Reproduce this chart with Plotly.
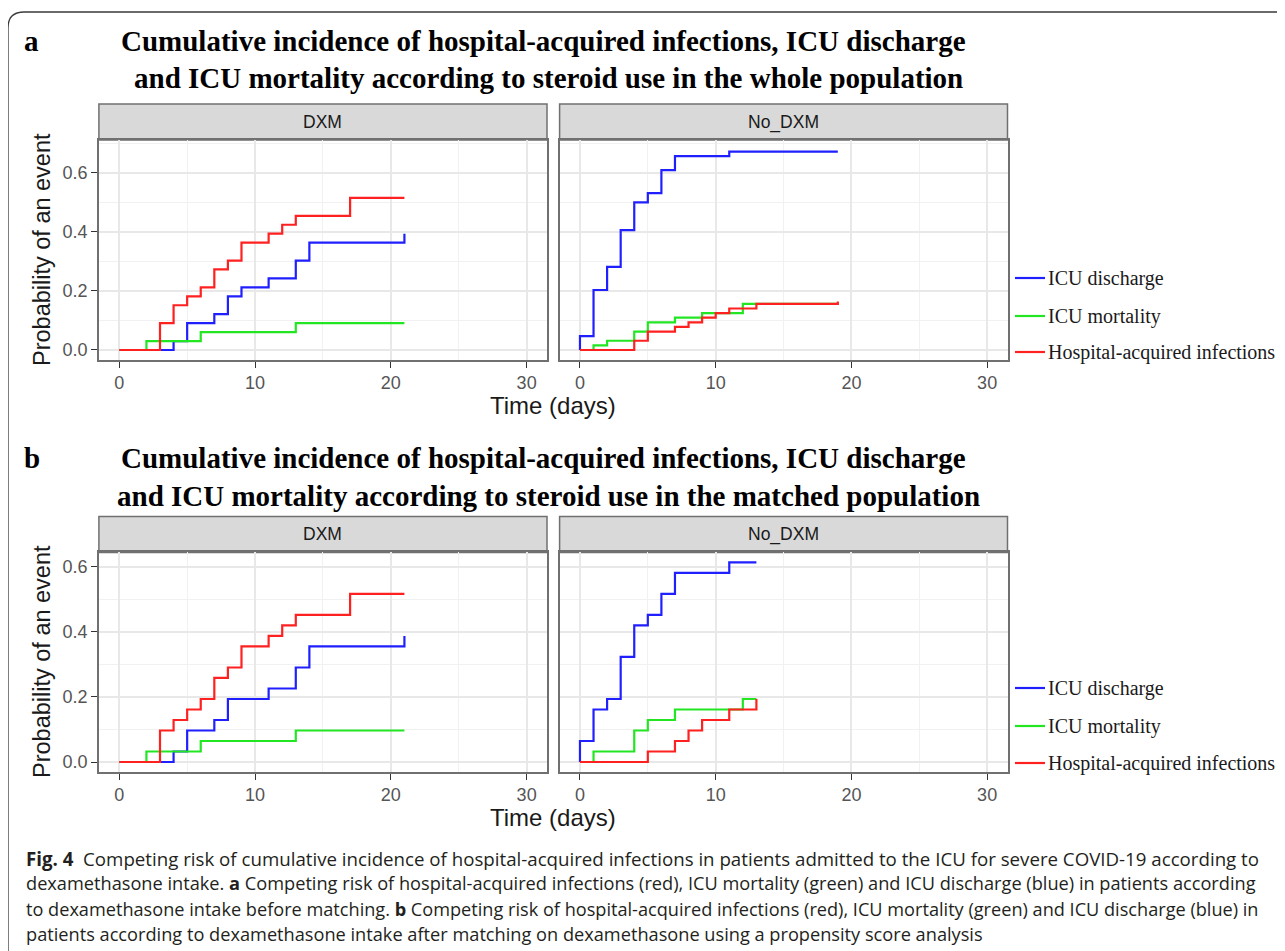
import plotly.graph_objects as go

W, H = 1285, 951
OFF = 8  # the page body adds an 8px margin; positions below are page pixels

# ---------------- data ----------------
panels = ["DXM", "No_DXM"]
series_names = ["ICU discharge", "ICU mortality", "Hospital-acquired infections"]
series_colors = ["#1f1fff", "#22e622", "#ff2020"]

# (a) whole population, DXM
a_dxm_dis_t = [0, 4, 5, 7, 8, 9, 11, 13, 14, 21, 21]
a_dxm_dis_v = [0, 0.0303, 0.0909, 0.1212, 0.1818, 0.2121, 0.2424, 0.3030, 0.3636, 0.3636, 0.3939]
a_dxm_mort_t = [0, 2, 6, 13, 21]
a_dxm_mort_v = [0, 0.0303, 0.0606, 0.0909, 0.0909]
a_dxm_hai_t = [0, 3, 4, 5, 6, 7, 8, 9, 11, 12, 13, 17, 21]
a_dxm_hai_v = [0, 0.0909, 0.1515, 0.1818, 0.2121, 0.2727, 0.3030, 0.3636, 0.3939, 0.4242, 0.4545, 0.5152, 0.5152]

# (a) whole population, No_DXM
a_no_dis_t = [0, 0, 1, 2, 3, 4, 5, 6, 7, 11, 19]
a_no_dis_v = [0, 0.0469, 0.2031, 0.2813, 0.4063, 0.5000, 0.5313, 0.6094, 0.6563, 0.6719, 0.6719]
a_no_mort_t = [0, 1, 2, 4, 5, 7, 9, 12, 19]
a_no_mort_v = [0, 0.0156, 0.0313, 0.0625, 0.0938, 0.1094, 0.1250, 0.1563, 0.1563]
a_no_hai_t = [0, 4, 5, 7, 8, 9, 10, 11, 13, 19, 19]
a_no_hai_v = [0, 0.0313, 0.0625, 0.0781, 0.0938, 0.1094, 0.1250, 0.1406, 0.1563, 0.1563, 0.1641]

# (b) matched population, DXM
b_dxm_dis_t = [0, 4, 5, 7, 8, 11, 13, 14, 21, 21]
b_dxm_dis_v = [0, 0.0323, 0.0968, 0.1290, 0.1935, 0.2258, 0.2903, 0.3548, 0.3548, 0.3871]
b_dxm_mort_t = [0, 2, 6, 13, 21]
b_dxm_mort_v = [0, 0.0323, 0.0645, 0.0968, 0.0968]
b_dxm_hai_t = [0, 3, 4, 5, 6, 7, 8, 9, 11, 12, 13, 17, 21]
b_dxm_hai_v = [0, 0.0968, 0.1290, 0.1613, 0.1935, 0.2581, 0.2903, 0.3548, 0.3871, 0.4194, 0.4516, 0.5161, 0.5161]

# (b) matched population, No_DXM
b_no_dis_t = [0, 0, 1, 2, 3, 4, 5, 6, 7, 11, 13]
b_no_dis_v = [0, 0.0645, 0.1613, 0.1935, 0.3226, 0.4194, 0.4516, 0.5161, 0.5806, 0.6129, 0.6129]
b_no_mort_t = [0, 1, 4, 5, 7, 12, 13]
b_no_mort_v = [0, 0.0323, 0.0968, 0.1290, 0.1613, 0.1935, 0.1935]
b_no_hai_t = [0, 5, 7, 8, 9, 11, 13, 13]
b_no_hai_v = [0, 0.0323, 0.0645, 0.0968, 0.1290, 0.1613, 0.1613, 0.1935]

x_ticks = [0, 10, 20, 30]
y_ticks = [0.0, 0.2, 0.4, 0.6]
y_tick_labels = ["0.0", "0.2", "0.4", "0.6"]

title_a = ["Cumulative incidence of hospital-acquired infections, ICU discharge",
           "and ICU mortality according to steroid use in the whole population"]
title_b = ["Cumulative incidence of hospital-acquired infections, ICU discharge",
           "and ICU mortality according to steroid use in the matched population"]
caption_lines = [
    "<b>Fig. 4</b>  Competing risk of cumulative incidence of hospital-acquired infections in patients admitted to the ICU for severe COVID-19 according to",
    "dexamethasone intake. <b>a</b> Competing risk of hospital-acquired infections (red), ICU mortality (green) and ICU discharge (blue) in patients according",
    "to dexamethasone intake before matching. <b>b</b> Competing risk of hospital-acquired infections (red), ICU mortality (green) and ICU discharge (blue) in",
    "patients according to dexamethasone intake after matching on dexamethasone using a propensity score analysis",
]

# ---------------- layout helpers ----------------
def px(x):
    return (x - OFF) / W

def py(y):
    return 1 - (y - OFF) / H

panel_x = [(98.9, 547.0), (559.6, 1007.5)]
panel_y = {"a": (140.0, 360.0), "b": (552.4, 772.0)}
strip_h = 36
yrange = {"a": [-0.0339, 0.7112], "b": [-0.0307, 0.6437]}

sans = "Liberation Sans, Arial"
serif = "Liberation Serif, Times New Roman"

fig = go.Figure()

data = {
    ("a", 0): [(a_dxm_dis_t, a_dxm_dis_v), (a_dxm_mort_t, a_dxm_mort_v), (a_dxm_hai_t, a_dxm_hai_v)],
    ("a", 1): [(a_no_dis_t, a_no_dis_v), (a_no_mort_t, a_no_mort_v), (a_no_hai_t, a_no_hai_v)],
    ("b", 0): [(b_dxm_dis_t, b_dxm_dis_v), (b_dxm_mort_t, b_dxm_mort_v), (b_dxm_hai_t, b_dxm_hai_v)],
    ("b", 1): [(b_no_dis_t, b_no_dis_v), (b_no_mort_t, b_no_mort_v), (b_no_hai_t, b_no_hai_v)],
}

layout_axes = {}
shapes = []
annotations = []
idx = 0
for part in ["a", "b"]:
    for col in [0, 1]:
        idx += 1
        sfx = "" if idx == 1 else str(idx)
        for (t, v), name, color in zip(data[(part, col)], series_names, series_colors):
            fig.add_trace(go.Scatter(
                x=t, y=v, mode="lines", line=dict(color=color, width=2.2, shape="hv"),
                name=name, showlegend=False, xaxis="x" + sfx, yaxis="y" + sfx,
                hoverinfo="skip"))
        x0, x1 = panel_x[col]
        y0, y1 = panel_y[part]
        layout_axes["xaxis" + sfx] = dict(
            domain=[px(x0), px(x1)], anchor="y" + sfx, range=[-1.5, 31.5],
            tickmode="array", tickvals=x_ticks, ticktext=[str(v) for v in x_ticks],
            ticks="outside", ticklen=6, tickwidth=1.4, tickcolor="#333333",
            tickfont=dict(family=sans, size=18, color="#555555"),
            showgrid=True, gridcolor="#e8e8e8", gridwidth=1.5,
            minor=dict(tickvals=[5, 15, 25], showgrid=True, gridcolor="#f1f1f1", gridwidth=0.9, ticks=""),
            showline=True, mirror=True, linecolor="#707070", linewidth=1.5,
            zeroline=False, fixedrange=True)
        layout_axes["yaxis" + sfx] = dict(
            domain=[py(y1), py(y0)], anchor="x" + sfx, range=yrange[part],
            tickmode="array", tickvals=y_ticks, ticktext=y_tick_labels,
            ticks="outside" if col == 0 else "", ticklen=6, tickwidth=1.4, tickcolor="#333333",
            showticklabels=(col == 0),
            tickfont=dict(family=sans, size=18, color="#555555"),
            showgrid=True, gridcolor="#e8e8e8", gridwidth=1.5,
            minor=dict(tickvals=[0.1, 0.3, 0.5, 0.7], showgrid=True, gridcolor="#f1f1f1", gridwidth=0.9, ticks=""),
            showline=True, mirror=True, linecolor="#707070", linewidth=1.5,
            zeroline=False, fixedrange=True)
        # facet strip
        shapes.append(dict(type="rect", xref="paper", yref="paper",
                           x0=px(x0), x1=px(x1), y0=py(y0), y1=py(y0 - strip_h),
                           fillcolor="#d9d9d9", line=dict(color="#707070", width=1.5), layer="below"))
        annotations.append(dict(xref="paper", yref="paper", x=px((x0 + x1) / 2), y=py(y0 - strip_h / 2),
                                text=panels[col], showarrow=False,
                                font=dict(family=sans, size=17.5, color="#1a1a1a"),
                                xanchor="center", yanchor="middle"))

# titles and panel letters
for letter, lines, y_l1, y_l2 in [("a", title_a, 41, 78), ("b", title_b, 458, 496)]:
    annotations.append(dict(xref="paper", yref="paper", x=px(22), y=py(y_l1), text="<b>%s</b>" % letter,
                            showarrow=False, xanchor="left", yanchor="middle",
                            font=dict(family=serif, size=29, color="#000000")))
    annotations.append(dict(xref="paper", yref="paper", x=px(543), y=py(y_l1), text="<b>%s</b>" % lines[0],
                            showarrow=False, xanchor="center", yanchor="middle",
                            font=dict(family=serif, size=29, color="#000000")))
    annotations.append(dict(xref="paper", yref="paper", x=px(548), y=py(y_l2), text="<b>%s</b>" % lines[1],
                            showarrow=False, xanchor="center", yanchor="middle",
                            font=dict(family=serif, size=29, color="#000000")))

# axis titles
for part, yc, ytime in [("a", 250, 405), ("b", 662, 817)]:
    annotations.append(dict(xref="paper", yref="paper", x=px(42), y=py(yc), text="Probability of an event",
                            showarrow=False, textangle=-90, xanchor="center", yanchor="middle",
                            font=dict(family=sans, size=23.5, color="#1a1a1a")))
    annotations.append(dict(xref="paper", yref="paper", x=px(553), y=py(ytime), text="Time (days)",
                            showarrow=False, xanchor="center", yanchor="middle",
                            font=dict(family=sans, size=24, color="#1a1a1a")))

# legends (drawn next to each pair of panels)
for ys in [(278, 316, 352), (688, 726, 763)]:
    for yy, name, color in zip(ys, series_names, series_colors):
        shapes.append(dict(type="line", xref="paper", yref="paper", x0=px(1015), x1=px(1045),
                           y0=py(yy), y1=py(yy), line=dict(color=color, width=2.2)))
        annotations.append(dict(xref="paper", yref="paper", x=px(1046), y=py(yy), text=name,
                                showarrow=False, xanchor="left", yanchor="middle",
                                font=dict(family=serif, size=20, color="#1a1a1a")))

# caption (font size per line so each line ends where the reference's does)
caption_sizes = [18.7, 18.2, 18.15, 18.2]
for i, (line, fs) in enumerate(zip(caption_lines, caption_sizes)):
    annotations.append(dict(xref="paper", yref="paper", x=px(24), y=py(858 + i * 25.3), text=line,
                            showarrow=False, xanchor="left", yanchor="middle",
                            font=dict(family="Open Sans, Liberation Sans", size=fs, color="#231f20")))

# outer frame with rounded top-left corner
r = 16
x0f, y0f = 8, 12
path = "M %f,%f L %f,%f Q %f,%f %f,%f L %f,%f" % (
    px(x0f), py(H + 40), px(x0f), py(y0f + r), px(x0f), py(y0f), px(x0f + r), py(y0f), px(W + 40), py(y0f))
shapes.append(dict(type="path", xref="paper", yref="paper", path=path,
                   line=dict(color="#3a3a3a", width=1.3)))

fig.update_layout(
    width=W, height=H, margin=dict(l=0, r=0, t=0, b=0),
    paper_bgcolor="white", plot_bgcolor="white",
    shapes=shapes, annotations=annotations, showlegend=False,
    **layout_axes)

fig.write_html("out.html")
